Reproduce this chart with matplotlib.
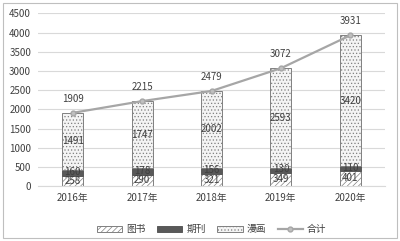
import numpy as np
import matplotlib.pyplot as plt
import matplotlib.patches as mpatches

plt.rcParams['font.family'] = ['Noto Sans CJK SC', 'DejaVu Sans']
plt.rcParams['hatch.linewidth'] = 0.5

# --- DATA ---
years = ['2016年', '2017年', '2018年', '2019年', '2020年']
books = [258, 290, 321, 349, 401]
journals = [160, 178, 156, 130, 110]
comics = [1491, 1747, 2002, 2593, 3420]
total = [1909, 2215, 2479, 3072, 3931]

txt = '#404040'
edge = '#808080'

fig = plt.figure(figsize=(4.0, 2.41), dpi=100)
fig.patches.append(mpatches.Rectangle((0.008, 0.012), 0.984, 0.976, transform=fig.transFigure,
                                      fill=False, ec='#bfbfbf', lw=0.8))
ax = fig.add_axes([0.095, 0.228, 0.8675, 0.716])

x = np.arange(len(years))
w = 0.3
b1 = np.array(books)
b2 = b1 + np.array(journals)

h1 = ax.bar(x, books, w, color='white', edgecolor=edge, hatch='//////', lw=0.7, label='图书', zorder=2)
h2 = ax.bar(x, journals, w, bottom=b1, color='#595959', edgecolor='#595959', lw=0.7, label='期刊', zorder=2)
h3 = ax.bar(x, comics, w, bottom=b2, color='#f4f4f4', edgecolor=edge, hatch='.....', lw=0.7,
            label='漫画', zorder=2)
h4, = ax.plot(x, total, color='#a6a6a6', lw=1.6, marker='o', ms=3.5, mfc='#bfbfbf', mec='#a6a6a6',
              label='合计', zorder=3)

# segment labels
for i in x:
    ax.text(i, books[i] / 2, str(books[i]), ha='center', va='center', fontsize=7, color=txt, zorder=4)
    ax.text(i, b1[i] + journals[i] / 2 + 20, str(journals[i]), ha='center', va='center', fontsize=7,
            color=txt, zorder=4)
    ax.text(i, b2[i] + comics[i] / 2, str(comics[i]), ha='center', va='center', fontsize=7,
            color=txt, zorder=4)
    ax.text(i, total[i] + 240, str(total[i]), ha='center', va='bottom', fontsize=7, color=txt)

ax.set_xlim(-0.5, len(years) - 0.5)
ax.set_ylim(0, 4500)
ax.set_yticks(np.arange(0, 4501, 500))
ax.set_xticks(x)
ax.set_xticklabels(years)
ax.tick_params(length=0, labelsize=7, colors=txt, pad=5)
ax.grid(axis='y', color='#d9d9d9', lw=0.8, zorder=0)
ax.set_axisbelow(True)
for s in ['top', 'right', 'left']:
    ax.spines[s].set_visible(False)
ax.spines['bottom'].set_color('#d9d9d9')

ax.legend([h1, h2, h3, h4], ['图书', '期刊', '漫画', '合计'], loc='upper center',
          bbox_to_anchor=(0.5, -0.17), ncol=4, frameon=False, fontsize=7,
          labelcolor=txt, handlelength=2.6, handleheight=0.6, columnspacing=1.2, handletextpad=0.4)

plt.savefig('out.png', dpi=100)
